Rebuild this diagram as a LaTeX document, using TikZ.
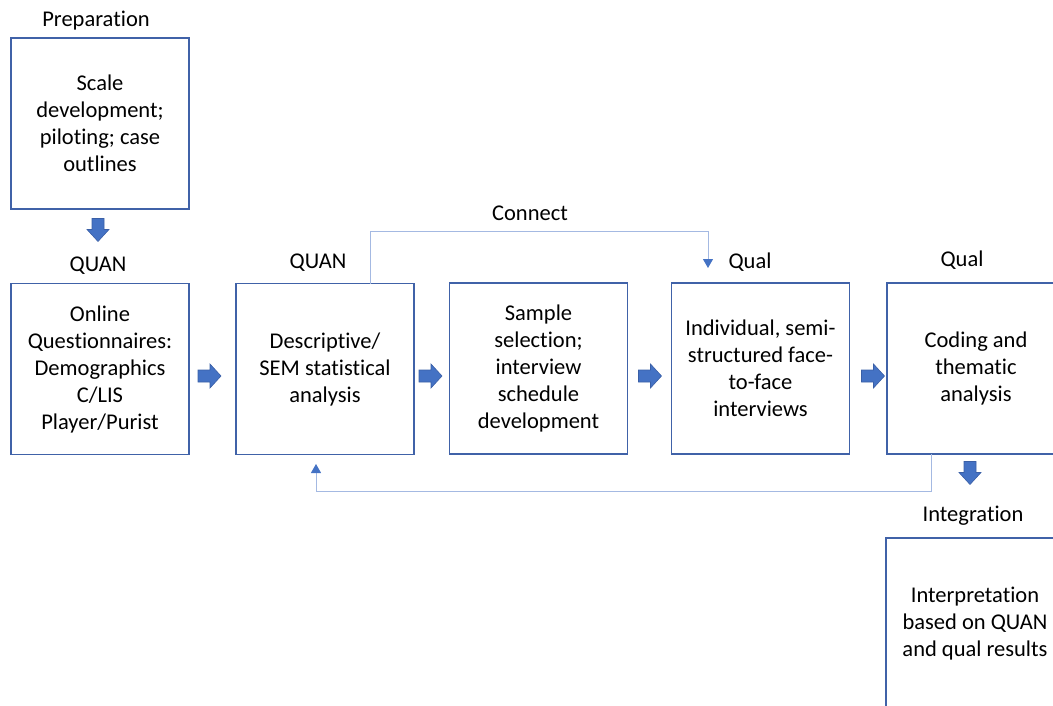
\documentclass[tikz,border=0pt]{standalone}
\usepackage{fontspec}
\setmainfont[Ligatures=NoCommon]{Carlito}
\usetikzlibrary{arrows.meta}
\definecolor{boxblue}{HTML}{4062A8}
\definecolor{arrowblue}{HTML}{4472C4}
\definecolor{arrowedge}{HTML}{3A5FA6}
\definecolor{linkblue}{HTML}{A4B9E2}
\tikzset{
  stage/.style={draw=boxblue, line width=1.8pt, minimum width=178pt, minimum height=171pt,
    align=center, inner sep=0pt, font=\fontsize{22.5}{27}\selectfont},
  heading/.style={inner sep=0pt, font=\fontsize{22.5}{27}\selectfont},
  blockarrow/.style={fill=arrowblue, draw=arrowedge, line width=0.6pt, line join=miter},
  link/.style={draw=linkblue, line width=1pt},
  linktip/.style={-{Triangle[width=10pt,length=9pt,color=arrowblue,fill=arrowblue]}}
}
% fat right-pointing arrow centred at (#1,#2)
\newcommand\rightblock[2]{\filldraw[blockarrow] (#1-11.5,#2-6) -- (#1+0.5,#2-6) -- (#1+0.5,#2-12) -- (#1+11.5,#2) -- (#1+0.5,#2+12) -- (#1+0.5,#2+6) -- (#1-11.5,#2+6) -- cycle;}
% fat down-pointing arrow centred at (#1,#2)
\newcommand\downblock[2]{\filldraw[blockarrow] (#1-6,#2-11.5) -- (#1+6,#2-11.5) -- (#1+6,#2-0.5) -- (#1+11,#2-0.5) -- (#1,#2+11.5) -- (#1-11,#2-0.5) -- (#1-6,#2-0.5) -- cycle;}
\begin{document}
\begin{tikzpicture}[x=1pt,y=-1pt]
\useasboundingbox (0,0) rectangle (1053,706);
\begin{scope}
\clip (0,0) rectangle (1053,706);

% stages
\node[stage] (prep) at (100,123.5) {Scale\\development;\\piloting; case\\outlines};
\node[stage] (quest) at (100,369) {Online\\Questionnaires:\\Demographics\\C/LIS\\Player/Purist};
\node[stage] (stats) at (325,369) {Descriptive/\\SEM statistical\\analysis};
\node[stage] (sample) at (538.5,368.5) {Sample\\selection;\\interview\\schedule\\development};
\node[stage] (interv) at (760.5,368.5) {Individual, semi-\\structured face-\\to-face\\interviews};
\node[stage] (coding) at (976,368.5) {Coding and\\thematic\\analysis};
\node[stage] (interp) at (975,623.5) {Interpretation\\based on QUAN\\and qual results};

% headings
\node[heading] (hprep) at (96,21) {Preparation};
\node[heading] (hquan1) at (98,266) {QUAN};
\node[heading] (hquan2) at (318,263) {QUAN};
\node[heading] (hconn) at (530,213) {Connect};
\node[heading] (hqual1) at (750,262) {Qual};
\node[heading] (hqual2) at (962,260) {Qual};
\node[heading] (hint) at (973,516) {Integration};

% block arrows between stages
\downblock{98}{230}
\rightblock{209.5}{376}
\rightblock{430.5}{376}
\rightblock{650}{376}
\rightblock{873}{376}
\downblock{970}{473}

% connect link: statistics to interviews
\coordinate (cstart) at (370,284);
\coordinate (ctip) at (708,268);
\draw[link,linktip] (cstart) |- (ctip |- 0,231) -- (ctip);
% feedback link: coding back to statistics
\coordinate (fstart) at (931,454);
\coordinate (ftip) at (316,464);
\draw[link,linktip] (fstart) |- (ftip |- 0,491) -- (ftip);
\end{scope}
\end{tikzpicture}
\end{document}
